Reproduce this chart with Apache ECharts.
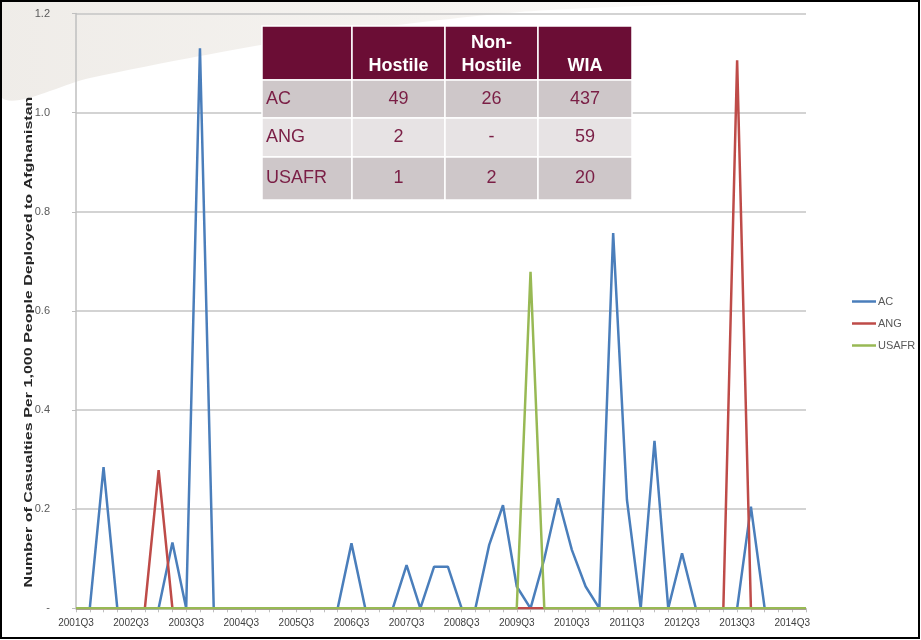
<!DOCTYPE html>
<html>
<head>
<meta charset="utf-8">
<title>Casualties per 1,000 people deployed to Afghanistan</title>
<script src="https://cdn.jsdelivr.net/npm/echarts@6/dist/echarts.min.js"></script>
<style>
  html, body { margin: 0; padding: 0; background: #fff; }
  #chart { width: 921px; height: 640px; }
</style>
</head>
<body>
<div id="chart"></div>
<script>
// quarters on the category axis (2001Q3 .. 2014Q4)
const quarters = [
  '2001Q3', '2001Q4', '2002Q1', '2002Q2', '2002Q3', '2002Q4', '2003Q1', '2003Q2', '2003Q3', '2003Q4',
  '2004Q1', '2004Q2', '2004Q3', '2004Q4', '2005Q1', '2005Q2', '2005Q3', '2005Q4', '2006Q1', '2006Q2',
  '2006Q3', '2006Q4', '2007Q1', '2007Q2', '2007Q3', '2007Q4', '2008Q1', '2008Q2', '2008Q3', '2008Q4',
  '2009Q1', '2009Q2', '2009Q3', '2009Q4', '2010Q1', '2010Q2', '2010Q3', '2010Q4', '2011Q1', '2011Q2',
  '2011Q3', '2011Q4', '2012Q1', '2012Q2', '2012Q3', '2012Q4', '2013Q1', '2013Q2', '2013Q3', '2013Q4',
  '2014Q1', '2014Q2', '2014Q3', '2014Q4'
];

// casualties per 1,000 deployed
const acValues = [
  0, 0, 0.285, 0, 0, 0, 0, 0.133, 0, 1.13,
  0, 0, 0, 0, 0, 0, 0, 0, 0, 0,
  0.131, 0, 0, 0, 0.087, 0, 0.084, 0.084, 0, 0,
  0.128, 0.208, 0.044, 0, 0.1, 0.222, 0.118, 0.044, 0, 0.757,
  0.219, 0, 0.338, 0, 0.111, 0, 0, 0, 0, 0.205,
  0, 0, 0, 0
];
const angValues = [
  0, 0, 0, 0, 0, 0, 0.279, 0, 0, 0,
  0, 0, 0, 0, 0, 0, 0, 0, 0, 0,
  0, 0, 0, 0, 0, 0, 0, 0, 0, 0,
  0, 0, 0, 0, 0, 0, 0, 0, 0, 0,
  0, 0, 0, 0, 0, 0, 0, 0, 1.106, 0,
  0, 0, 0, 0
];
const usafrValues = [
  0, 0, 0, 0, 0, 0, 0, 0, 0, 0,
  0, 0, 0, 0, 0, 0, 0, 0, 0, 0,
  0, 0, 0, 0, 0, 0, 0, 0, 0, 0,
  0, 0, 0, 0.679, 0, 0, 0, 0, 0, 0,
  0, 0, 0, 0, 0, 0, 0, 0, 0, 0,
  0, 0, 0, 0
];

// summary table
const tableHeaders = ['', 'Hostile', 'Non-\nHostile', 'WIA'];
const tableRowNames = ['AC', 'ANG', 'USAFR'];
const hostileCounts = [49, 2, 1];
const nonHostileCounts = [26, '-', 2];
const wiaCounts = [437, 59, 20];

const seriesColors = ['#4a7ebb', '#be4b48', '#98b954'];
const yTitle = 'Number of Casualties Per 1,000 People Deployed to Afghanistan';

// table layout
const tableLeft = 262, tableTop = 26;
const colWidths = [90, 93, 93, 94];
const rowHeights = [54, 38, 39, 43];
const rowFills = ['#6b0d35', '#cec7c9', '#e7e3e4', '#cec7c9'];

function buildTable() {
  const els = [];
  const rows = [tableHeaders].concat(tableRowNames.map((n, i) =>
    [n, hostileCounts[i], nonHostileCounts[i], wiaCounts[i]]));
  let y = tableTop;
  rows.forEach((row, r) => {
    let x = tableLeft;
    row.forEach((cell, c) => {
      const w = colWidths[c], h = rowHeights[r];
      els.push({
        type: 'rect', z: 100,
        shape: { x: x, y: y, width: w, height: h },
        style: { fill: rowFills[r], stroke: '#fff', lineWidth: 1.5 }
      });
      const header = r === 0;
      els.push({
        type: 'text', z: 101,
        x: c === 0 ? x + 4 : x + w / 2,
        y: header ? y + h - 2 : y + h / 2,
        style: {
          text: String(cell),
          fill: header ? '#fff' : '#7a1e45',
          fontFamily: 'Arial, Liberation Sans, sans-serif',
          fontSize: 18,
          fontWeight: header ? 'bold' : 'normal',
          lineHeight: 23,
          align: c === 0 ? 'left' : 'center',
          verticalAlign: header ? 'bottom' : 'middle'
        }
      });
      x += w;
    });
    y += rowHeights[r];
  });
  return els;
}

const chart = echarts.init(document.getElementById('chart'), null, { renderer: 'canvas' });

const option = {
  animation: false,
  backgroundColor: '#fff',
  textStyle: { fontFamily: 'Arial, Liberation Sans, sans-serif' },
  grid: { left: 76, right: 115, top: 13.6, bottom: 31.7, containLabel: false },
  legend: {
    orient: 'vertical',
    left: 847,
    top: 291,
    icon: 'rect',
    itemWidth: 24,
    itemHeight: 2.5,
    itemGap: 11,
    textStyle: { color: '#595959', fontSize: 11, padding: [0, 0, 0, -3] },
    data: ['AC', 'ANG', 'USAFR']
  },
  xAxis: {
    type: 'category',
    data: quarters,
    boundaryGap: false,
    axisLine: { lineStyle: { color: '#bfbfbf', width: 1.5 } },
    axisTick: { show: true, interval: 0, length: 4, lineStyle: { color: '#bfbfbf' } },
    axisLabel: { interval: 3, color: '#404040', fontSize: 10, margin: 10 }
  },
  yAxis: {
    type: 'value',
    min: 0,
    max: 1.2,
    interval: 0.2,
    axisLine: { show: true, lineStyle: { color: '#bfbfbf', width: 1.5 } },
    axisTick: { show: true, length: 4, lineStyle: { color: '#bfbfbf' } },
    axisLabel: {
      color: '#595959', fontSize: 11, margin: 26,
      formatter: v => v === 0 ? '-' : v.toFixed(1)
    },
    splitLine: { lineStyle: { color: '#c4c4c4', width: 1.5 } }
  },
  series: [
    { name: 'AC', type: 'line', data: acValues, symbol: 'none',
      lineStyle: { color: seriesColors[0], width: 2.5 }, itemStyle: { color: seriesColors[0] } },
    { name: 'ANG', type: 'line', data: angValues, symbol: 'none',
      lineStyle: { color: seriesColors[1], width: 2.5 }, itemStyle: { color: seriesColors[1] } },
    { name: 'USAFR', type: 'line', data: usafrValues, symbol: 'none',
      lineStyle: { color: seriesColors[2], width: 2.5 }, itemStyle: { color: seriesColors[2] } }
  ],
  graphic: [
    // pale slide swoosh in the top-left corner
    {
      type: 'polygon', z: -10, silent: true,
      shape: {
        points: [[2, 2], [720, 2], [520, 12], [330, 34], [200, 56], [90, 78], [2, 98]],
        smooth: 0.3
      },
      style: {
        fill: new echarts.graphic.LinearGradient(0, 0, 1, 0, [
          { offset: 0, color: '#efece8' },
          { offset: 0.6, color: '#f5f3f0' },
          { offset: 1, color: '#fdfcfc' }
        ])
      }
    },
    // y-axis title, stretched like the source image
    {
      type: 'text', z: 50, x: 29, y: 342, rotation: Math.PI / 2, scaleX: 1.46,
      style: {
        text: yTitle, fill: '#262626',
        fontFamily: 'Arial, Liberation Sans, sans-serif',
        fontSize: 11, fontWeight: 'bold',
        align: 'center', verticalAlign: 'middle'
      }
    },
    ...buildTable(),
    // black frame
    {
      type: 'rect', z: 120, silent: true,
      shape: { x: 1, y: 1, width: 918, height: 637 },
      style: { fill: 'none', stroke: '#000', lineWidth: 2 }
    }
  ]
};

chart.setOption(option);
</script>
</body>
</html>
